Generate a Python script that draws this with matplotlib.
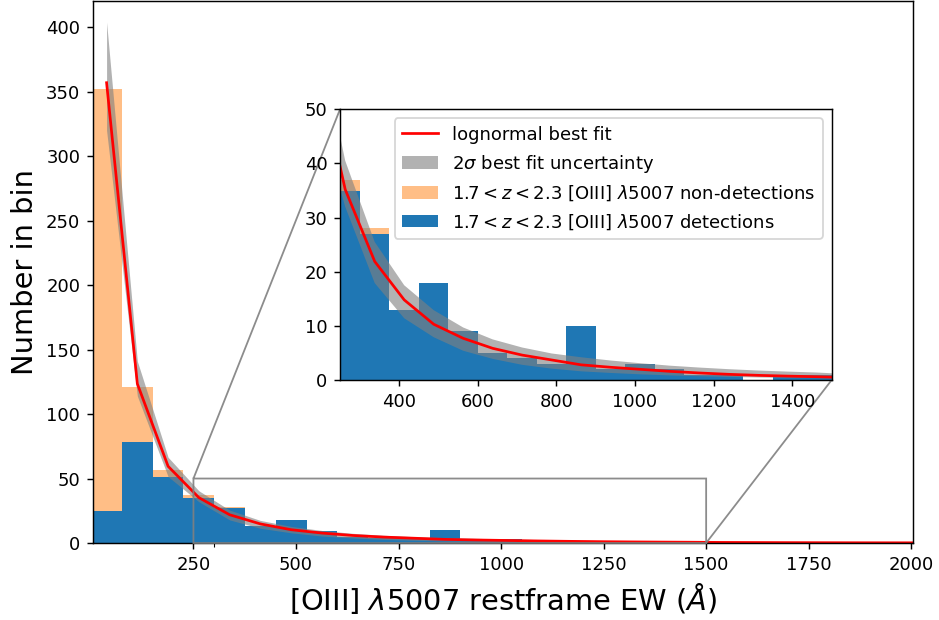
import numpy as np
import matplotlib
matplotlib.use("Agg")
import matplotlib.pyplot as plt

# histogram bins of restframe EW (Angstrom)
bin_edges = np.linspace(0.7, 1875.7, 26)

# counts per bin
all_counts = [352, 121, 57, 37, 28, 13, 18, 9, 5, 4, 3, 10, 2,
              3, 2, 1, 1, 0, 1, 1, 0, 0, 1, 0, 1]
det_counts = [25, 78, 51, 35, 27, 13, 18, 9, 5, 4, 3, 10, 2,
              3, 2, 1, 1, 0, 1, 1, 0, 0, 1, 0, 1]

# lognormal fit evaluated at bin centres (plus a few beyond)
fit_x = [38.2, 113.2, 188.2, 263.2, 338.2, 413.2, 488.2, 563.2, 638.2,
         713.2, 788.2, 863.2, 938.2, 1013.2, 1088.2, 1163.2, 1238.2,
         1313.2, 1388.2, 1463.2, 1538.2, 1613.2, 1688.2, 1763.2, 1838.2,
         1913.2, 1988.2, 2063.2]
fit_y = [357, 123.5, 59.5, 35.2, 21.9, 14.8, 10.3, 7.7, 5.85, 4.6, 3.7,
         2.8, 2.35, 1.97, 1.6, 1.3, 1.05, 0.86, 0.72, 0.6, 0.45, 0.38,
         0.30, 0.25, 0.20, 0.17, 0.15, 0.14]
fit_lo = [320, 114, 51.5, 32.0, 17.9, 11.4, 7.9, 5.4, 3.9, 2.8, 2.1, 1.6,
          1.3, 1.05, 0.85, 0.7, 0.57, 0.47, 0.4, 0.34, 0.25, 0.2, 0.16,
          0.13, 0.1, 0.09, 0.08, 0.07]
fit_hi = [404, 141, 66.5, 40.5, 25.5, 17.5, 12.9, 9.7, 7.5, 6.0, 4.9, 4.2,
          3.6, 3.1, 2.65, 2.3, 2.0, 1.75, 1.55, 1.38, 1.1, 0.95, 0.8,
          0.7, 0.6, 0.55, 0.5, 0.45]

lab_fit = 'lognormal best fit'
lab_band = r'2$\sigma$ best fit uncertainty'
lab_non = r'$1.7<z<2.3$ [OIII] $\lambda$5007 non-detections'
lab_det = r'$1.7<z<2.3$ [OIII] $\lambda$5007 detections'


def draw(a):
    lefts = bin_edges[:-1]
    widths = np.diff(bin_edges)
    a.bar(lefts, all_counts, width=widths, align='edge',
          color='tab:orange', alpha=0.5, label=lab_non)
    a.bar(lefts, det_counts, width=widths, align='edge',
          color='tab:blue', label=lab_det)
    a.fill_between(fit_x, fit_lo, fit_hi, color='gray', alpha=0.6,
                   lw=0, label=lab_band)
    a.plot(fit_x, fit_y, color='red', lw=1.5, label=lab_fit)


fig = plt.figure(figsize=(939 / 130, 620 / 130), dpi=130)
ax = fig.add_axes([0.099, 0.1242, 0.8736, 0.8734])
draw(ax)
ax.set_xlim(5, 2005)
ax.set_ylim(0, 420)
ax.set_xticks([300], minor=True)
ax.set_xlabel(r'[OIII] $\lambda$5007 restframe EW ($\AA$)', fontsize=16)
ax.set_ylabel('Number in bin', fontsize=16)

axins = fig.add_axes([0.3621, 0.3871, 0.5236, 0.4366])
draw(axins)
axins.set_xlim(250, 1500)
axins.set_ylim(0, 50)
h, l = axins.get_legend_handles_labels()
by_label = dict(zip(l, h))
order = [lab_fit, lab_band, lab_non, lab_det]
axins.legend([by_label[k] for k in order], order, loc='upper right')

ind = ax.indicate_inset_zoom(axins, edgecolor='gray', alpha=0.9)
# keep upper-left and lower-right connectors only
for c, vis in zip(ind.connectors, [False, True, True, False]):
    c.set_visible(vis)

fig.savefig('out.png', dpi=130)
